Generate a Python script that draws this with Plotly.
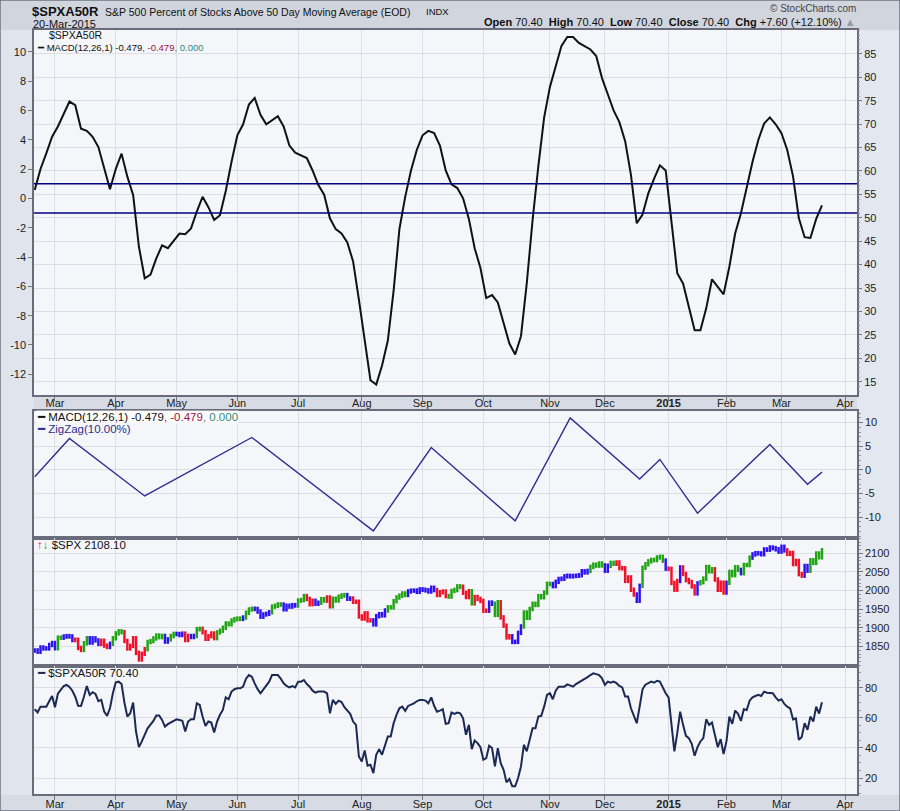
import pandas as pd
import plotly.graph_objects as go

# trading calendar for the window shown (NYSE holidays removed)
holidays = ["2014-04-18", "2014-05-26", "2014-07-04", "2014-09-01", "2014-11-27",
            "2014-12-25", "2015-01-01", "2015-01-19", "2015-02-16"]
days = pd.bdate_range("2014-02-20", "2015-04-30")
days = days[~days.isin(pd.to_datetime(holidays))]
pos = {d: i for i, d in enumerate(days)}

month_starts = pd.date_range("2014-03-01", "2015-04-01", freq="MS")
month_idx = [int(days.searchsorted(m)) for m in month_starts]
month_lbl = ["<b>2015</b>" if m.month == 1 else m.strftime("%b") for m in month_starts]

# MACD(12,26,1) of $SPXA50R, read every 2nd session from 20-Feb-2014
macd_vals = [
    0.57, 2.0, 3.07, 4.2, 4.9, 5.8, 6.6, 6.35, 4.75, 4.6,
    4.2, 3.5, 2.1, 0.62, 2.0, 3.05, 1.48, 0.23, -3.3, -5.45,
    -5.2, -4.1, -3.2, -3.4, -2.9, -2.4, -2.45, -2.05, -0.9, 0.11,
    -0.6, -1.47, -1.15, 0.5, 2.5, 4.3, 5.05, 6.4, 6.85, 5.7,
    5.05, 5.35, 5.6, 4.9, 3.6, 3.12, 2.95, 2.75, 1.9, 0.91,
    0.25, -1.36, -2.1, -2.4, -3.0, -4.3, -6.9, -9.8, -12.4, -12.7,
    -11.4, -9.7, -6.3, -2.1, 0.1, 1.9, 3.3, 4.3, 4.6, 4.45,
    3.6, 1.9, 0.95, 0.7, 0.0, -1.4, -3.4, -4.75, -6.8, -6.6,
    -7.1, -8.5, -9.9, -10.65, -9.4, -5.8, -1.5, 2.2, 5.5, 7.6,
    9.0, 10.4, 11.0, 11.0, 10.6, 10.35, 10.15, 9.7, 8.2, 7.1,
    6.0, 5.2, 3.9, 1.6, -1.7, -1.1, 0.34, 1.35, 2.25, 1.9,
    -1.8, -5.1, -5.8, -7.3, -9.0, -9.0, -7.5, -5.52, -6.0, -6.55,
    -4.66, -2.4, -1.02, 0.8, 2.5, 3.98, 5.1, 5.52, 5.05, 4.45,
    3.3, 1.5, -1.35, -2.65, -2.7, -1.4, -0.48,
]

# ZigZag(10%) turning points of the MACD
zz_dates = ["2014-02-20", "2014-03-10", "2014-04-15", "2014-06-09", "2014-08-07",
            "2014-09-05", "2014-10-16", "2014-11-12", "2014-12-17", "2014-12-29",
            "2015-01-16", "2015-02-24", "2015-03-13", "2015-03-20"]
zz_vals = [-1.45, 6.63, -5.52, 6.84, -12.9, 4.73, -10.78, 10.97, -1.94, 2.2,
           -9.16, 5.36, -3.06, -0.48]

# $SPX daily closes from 20-Feb-2014 to 20-Mar-2015
spx_close = [
    1839.8, 1836.3, 1847.6, 1845.1, 1845.2, 1854.3, 1859.5,
    1845.7, 1873.9, 1873.8, 1877.0, 1878.0, 1877.2, 1867.6, 1868.2, 1846.3, 1841.1,
    1858.8, 1872.3, 1860.8, 1872.0, 1866.5, 1857.4, 1865.6, 1852.6, 1849.0, 1857.6, 1872.3,
    1885.5, 1890.9, 1888.8, 1865.1, 1845.0, 1852.0, 1872.2, 1833.1, 1815.7, 1830.6,
    1843.0, 1862.3, 1864.9, 1871.9, 1879.6, 1875.4, 1878.6, 1863.4, 1869.4, 1878.3, 1884.0,
    1883.7, 1881.1, 1884.7, 1867.7, 1878.2, 1875.6, 1878.5, 1896.7, 1897.5, 1888.5,
    1870.9, 1877.9, 1885.1, 1872.8, 1888.0, 1892.5, 1900.5, 1911.9, 1909.8, 1920.0, 1923.6,
    1925.0, 1924.2, 1927.9, 1940.5, 1949.4, 1951.3, 1950.8, 1943.9, 1930.1, 1936.2,
    1937.8, 1942.0, 1957.0, 1959.5, 1962.9, 1962.6, 1950.0, 1959.5, 1957.2, 1961.0, 1960.2,
    1973.3, 1974.6, 1985.4, 1977.7, 1963.7, 1972.8, 1964.7, 1967.6, 1977.1, 1973.3, 1981.6,
    1958.1, 1978.2, 1973.6, 1983.5, 1987.0, 1988.0, 1978.3, 1978.9, 1970.0, 1970.1, 1930.7,
    1925.2, 1939.0, 1920.2, 1920.2, 1909.6, 1931.6, 1936.9, 1933.8, 1946.7, 1955.2,
    1955.1, 1971.7, 1981.6, 1986.5, 1992.4, 1988.4, 1997.9, 2000.0, 2000.1, 1996.7, 2003.4,
    2002.3, 2000.7, 1997.7, 2007.7, 2001.5, 1988.4, 1995.7, 1997.5, 1985.5, 1984.1,
    1999.0, 2001.6, 2011.4, 2010.4, 1994.3, 1982.8, 1998.3, 1966.0, 1982.9, 1977.8, 1972.3,
    1946.2, 1946.2, 1967.9, 1964.8, 1935.1, 1968.9, 1928.2, 1906.1, 1874.7, 1877.7, 1862.5,
    1862.8, 1886.8, 1904.0, 1941.3, 1927.1, 1950.8, 1964.6, 1961.6, 1985.1, 1982.3, 1994.7, 2018.1,
    2017.8, 2012.1, 2023.6, 2031.2, 2031.9, 2038.3, 2039.7, 2038.3, 2039.3, 2039.8,
    2041.3, 2051.8, 2048.7, 2052.8, 2063.5, 2069.4, 2067.0, 2072.8, 2067.6,
    2053.4, 2066.6, 2074.3, 2071.9, 2075.4, 2060.3, 2059.8, 2026.1, 2035.3, 2002.3, 1989.6,
    1972.7, 2012.9, 2061.2, 2070.7, 2078.5, 2082.2, 2081.9, 2088.8, 2090.6, 2080.4, 2058.9,
    2058.2, 2020.6, 2002.6, 2025.9, 2062.1, 2044.8, 2028.3, 2023.0, 2011.3, 1992.7,
    2019.4, 2022.6, 2032.1, 2063.2, 2051.8, 2057.1, 2029.6, 2002.2, 2021.3, 1995.0,
    2020.9, 2050.0, 2041.5, 2062.5, 2055.5, 2046.7, 2068.6, 2068.5, 2088.5, 2097.0,
    2100.3, 2099.7, 2097.5, 2110.3, 2109.7, 2115.5, 2113.9, 2110.7, 2104.5,
    2117.4, 2107.8, 2098.5, 2101.0, 2071.3, 2079.4, 2044.2, 2040.2, 2066.0, 2053.4,
    2081.2, 2074.3, 2099.5, 2089.3, 2108.1,
]

# Elder impulse colouring of the $SPX bars as (colour, number of sessions)
spx_runs = [
    ("b", 8), ("g", 2), ("b", 4), ("r", 3), ("g", 2), ("b", 4), ("r", 3), ("b", 1), ("g", 4), ("r", 8),
    ("g", 6), ("b", 2), ("g", 2), ("b", 3), ("r", 2), ("b", 2), ("g", 2), ("r", 5), ("g", 9),
    ("b", 1), ("g", 3), ("b", 6), ("g", 4), ("b", 5), ("g", 3), ("r", 3), ("b", 2), ("g", 2), ("r", 2),
    ("g", 5), ("b", 2), ("r", 7), ("b", 5), ("g", 7), ("b", 10), ("r", 4),
    ("g", 5), ("r", 3), ("g", 1), ("r", 5), ("b", 2), ("g", 2), ("r", 4), ("b", 4), ("g", 10),
    ("b", 13), ("g", 5), ("b", 2), ("g", 2), ("r", 7), ("b", 2), ("g", 8),
    ("b", 1), ("r", 4), ("b", 1), ("r", 5), ("b", 1), ("g", 5), ("r", 4), ("b", 1), ("g", 4),
    ("b", 1), ("g", 3), ("b", 12), ("r", 6), ("b", 2), ("g", 5),
]

# $SPXA50R daily values
a50_vals = [
    65.7, 63.5, 67.4, 67.4, 67.4, 71.0, 74.5, 67.0, 76.0, 78.5,
    81.0, 81.8, 80.5, 78.0, 74.0, 68.0, 67.9, 74.0, 81.1, 75.2,
    77.0, 75.8, 71.0, 71.9, 64.1, 61.3, 66.3, 76.3, 83.6, 84.0,
    82.5, 70.0, 60.8, 63.0, 70.1, 50.9, 40.5, 44.3, 48.7, 53.0,
    55.5, 57.9, 61.5, 61.5, 58.6, 54.2, 55.8, 57.0, 58.3, 59.0,
    58.6, 58.0, 50.9, 57.5, 59.0, 59.0, 69.6, 68.5, 60.8, 54.6,
    57.5, 56.8, 50.2, 57.5, 62.0, 65.2, 73.6, 72.3, 77.4, 79.0,
    79.6, 79.6, 80.7, 86.0, 88.4, 87.3, 82.9, 79.0, 76.3, 78.9,
    80.7, 84.0, 88.4, 88.4, 88.4, 86.0, 82.9, 81.1, 80.2, 81.1,
    80.2, 84.0, 84.0, 85.1, 82.4, 80.7, 78.0, 76.7, 77.4, 77.4,
    77.4, 76.3, 63.0, 71.9, 69.2, 71.4, 70.5, 67.0, 64.8, 62.6,
    57.5, 55.3, 34.3, 31.0, 38.3, 28.2, 28.8, 23.3, 35.5, 39.2,
    35.5, 41.0, 47.6, 47.6, 56.4, 61.9, 66.3, 67.4, 64.6, 67.9,
    68.5, 69.6, 71.0, 71.9, 71.9, 71.4, 69.6, 73.6, 68.0, 64.1,
    64.8, 65.7, 56.0, 56.4, 63.5, 62.6, 63.5, 63.0, 59.7, 48.7,
    55.3, 39.2, 44.9, 43.2, 40.5, 32.1, 33.2, 41.4, 39.9, 27.7,
    39.9, 29.9, 25.5, 17.1, 19.4, 14.5, 14.5, 20.0, 27.7, 42.1,
    37.7, 45.4, 53.1, 53.1, 60.8, 61.3, 67.4, 75.2, 76.3, 72.3,
    78.0, 80.7, 80.7, 80.7, 82.2, 81.5, 80.7, 82.4, 83.5, 84.6,
    85.5, 87.0, 88.4, 89.5, 89.0, 88.4, 86.2, 81.8, 84.0, 83.3,
    84.0, 83.0, 81.1, 80.2, 74.1, 74.1, 66.3, 61.9, 56.4, 67.4,
    78.9, 82.0, 82.9, 84.0, 83.3, 84.6, 84.0, 80.0, 76.3, 73.6,
    55.0, 37.7, 49.8, 64.1, 55.3, 48.0, 46.5, 42.7, 34.8, 40.5,
    44.3, 46.5, 59.0, 55.3, 56.8, 49.3, 40.5, 45.8, 35.9, 44.3,
    60.8, 56.0, 64.8, 62.6, 57.9, 65.7, 65.2, 71.4, 73.6, 74.5,
    75.2, 74.5, 77.4, 76.7, 76.5, 76.3, 73.6, 71.4, 72.3, 69.2,
    67.4, 66.3, 59.0, 59.7, 45.4, 47.2, 56.4, 52.0, 60.8, 57.5,
    67.4, 62.8, 70.4,
]

W, H = 900, 811
def fx(p): return p / W
def fy(p): return 1 - p / H

FONT = "Liberation Sans"
GRID = "#dcdee6"
FRAME = "#6a6c7c"
BG = "#d6dbe4"
PLOT = "#f5f6fa"
NAVY = "#000080"
BAR_COL = {"g": "#1fa512", "r": "#f01028", "b": "#2a12f2"}

macd_x = list(range(0, 2 * len(macd_vals), 2))
zz_x = [pos[pd.Timestamp(d)] for d in zz_dates]
spx_x = list(range(len(spx_close)))
a50_x = list(range(len(a50_vals)))

bar_cols = []
for c, n in spx_runs:
    bar_cols += [BAR_COL[c]] * n
prev = [spx_close[0]] + spx_close[:-1]
bar_lo = [min(a, b) - 6 for a, b in zip(prev, spx_close)]
bar_len = [abs(a - b) + 12 for a, b in zip(prev, spx_close)]

fig = go.Figure()
fig.add_trace(go.Scatter(x=[], y=[], xaxis="x", yaxis="y5", hoverinfo="skip"))
fig.add_trace(go.Scatter(x=macd_x, y=macd_vals, mode="lines", xaxis="x", yaxis="y",
                         line=dict(color="#111111", width=2)))
fig.add_trace(go.Scatter(x=zz_x, y=zz_vals, mode="lines", xaxis="x2", yaxis="y2",
                         line=dict(color="#2e2e90", width=1.4)))
fig.add_trace(go.Bar(x=spx_x, base=bar_lo, y=bar_len, xaxis="x3", yaxis="y3", width=0.85,
                     marker=dict(color=bar_cols, line=dict(width=0))))
fig.add_trace(go.Scatter(x=a50_x, y=a50_vals, mode="lines", xaxis="x4", yaxis="y4",
                         line=dict(color="#1b2a52", width=2)))

xdom = [fx(34), fx(857)]
def xax(labels, anchor, standoff=-4):
    return dict(domain=xdom, anchor=anchor, range=[-0.25, 284.1], tickvals=month_idx,
                ticktext=month_lbl, showticklabels=labels, ticks="outside" if labels else "",
                ticklen=4, tickcolor="#777", ticklabelstandoff=standoff,
                showgrid=True, gridcolor=GRID, gridwidth=1,
                showline=True, linecolor=FRAME, linewidth=1.5, mirror=True, zeroline=False,
                tickfont=dict(family=FONT, size=11, color="#222"))

def yax(dom, rng, ticks, anchor, side="right", grid=True):
    return dict(domain=dom, anchor=anchor, range=rng, side=side, tickvals=ticks,
                ticktext=[str(t) for t in ticks], ticks="outside", ticklen=4, tickcolor="#777",
                showgrid=grid, gridcolor=GRID, gridwidth=1, zeroline=False,
                showline=True, linecolor=FRAME, linewidth=1.5, mirror=True,
                minor=dict(ticks="outside", ticklen=2, tickcolor="#999", showgrid=False),
                tickfont=dict(family=FONT, size=11, color="#222"))

top_dom = [fy(395), fy(30)]
mid_dom = [fy(538), fy(411)]
spx_dom = [fy(666), fy(538)]
bot_dom = [fy(794), fy(666)]

y_top = yax(top_dom, [-13.41, 11.48], list(range(-12, 11, 2)), "x", side="left", grid=False)
y_top["minor"] = dict(ticks="")
y_right = dict(overlaying="y", anchor="x", side="right", range=[12.16, 90.1],
               tickvals=list(range(15, 90, 5)), ticktext=[str(t) for t in range(15, 90, 5)],
               ticks="outside", ticklen=4, tickcolor="#777", showgrid=True, gridcolor=GRID,
               zeroline=False, showline=False,
               minor=dict(ticks="outside", ticklen=2, tickcolor="#999", dtick=1, showgrid=False),
               tickfont=dict(family=FONT, size=11, color="#222"))
y_mid = yax(mid_dom, [-14.4, 12.44], [-10, -5, 0, 5, 10], "x2")
y_mid["minor"]["dtick"] = 1
y_spx = yax(spx_dom, [1798, 2141], [1850, 1900, 1950, 2000, 2050, 2100], "x3")
y_spx["minor"]["dtick"] = 10
y_bot = yax(bot_dom, [9.4, 94.4], [20, 40, 60, 80], "x4")
y_bot["minor"]["dtick"] = 5

shapes = [
    dict(type="rect", xref="paper", yref="paper", x0=0, x1=1, y0=fy(30), y1=1,
         fillcolor="#d0d5de", line=dict(width=0), layer="below"),
    dict(type="rect", xref="paper", yref="paper", x0=0, x1=fx(34), y0=fy(795), y1=fy(30),
         fillcolor="#e0e4ec", line=dict(width=0), layer="below"),
    dict(type="rect", xref="paper", yref="paper", x0=fx(857), x1=1, y0=fy(795), y1=fy(30),
         fillcolor="#e3e7ef", line=dict(width=0), layer="below"),
    dict(type="rect", xref="paper", yref="paper", x0=0, x1=1, y0=0, y1=1,
         line=dict(color="#707480", width=1.5)),
    dict(type="line", xref="x domain", yref="y", x0=0, x1=1, y0=1, y1=1,
         line=dict(color=NAVY, width=1.5)),
    dict(type="line", xref="x domain", yref="y", x0=0, x1=1, y0=-1, y1=-1,
         line=dict(color=NAVY, width=1.5)),
]

def note(text, x, y, size=11, color="#111", anchor="left", bg=None):
    return dict(text=text, x=fx(x), y=fy(y), xref="paper", yref="paper", showarrow=False,
                xanchor=anchor, yanchor="middle", bgcolor=bg, borderpad=0,
                font=dict(family=FONT, size=size, color=color))

sp = "\u00a0"
macd_txt = ("MACD(12,26,1) -0.479<span style='color:#9a1440'>, -0.479</span>"
            "<span style='color:#2f8a78'>, 0.000</span>")
annotations = [
    note("<b>$SPXA50R</b>", 31, 11, size=13),
    note("S&P 500 Percent of Stocks Above 50 Day Moving Average (EOD)", 104, 12, size=10.5),
    note("INDX", 425, 12, size=9.5),
    note("20-Mar-2015", 32, 24, size=11),
    note("\u00a9 StockCharts.com", 857, 9, size=10, color="#444", anchor="right"),
    note(f"<b>Open</b> 70.40{sp}{sp}<b>High</b> 70.40{sp}{sp}<b>Low</b> 70.40{sp}{sp}"
         f"<b>Close</b> 70.40{sp}{sp}<b>Chg</b> +7.60 (+12.10%) <span style='color:#999'>\u25b2</span>",
         857, 22, size=11, anchor="right"),
    note("$SPXA50R", 48, 35, size=10.5),
    note("<span style='color:#111'>\u2501</span> " + macd_txt, 36, 47, size=9.5),
    note("\u2501 " + macd_txt, 36, 417, size=11.5, bg="rgba(255,255,255,0.75)"),
    note("<span style='color:#2e2e90'>\u2501 ZigZag(10.00%)</span>", 36, 429, size=11.5, color="#2e2e90"),
    note("<span style='color:#f01028'>\u2191</span><span style='color:#1fa512'>\u2193</span> $SPX 2108.10",
         36, 545, size=11.5),
    note("<span style='color:#1b2a52'>\u2501</span> $SPXA50R 70.40", 36, 673, size=11.5),
]

fig.update_layout(
    width=W, height=H, margin=dict(l=0, r=0, t=0, b=0), template="none",
    paper_bgcolor=BG, plot_bgcolor=PLOT, showlegend=False, barmode="overlay",
    font=dict(family=FONT, size=11, color="#222"),
    xaxis=xax(True, "y", -7), xaxis2=xax(False, "y2"), xaxis3=xax(False, "y3"),
    xaxis4=xax(True, "y4", -5),
    yaxis=y_top, yaxis5=y_right, yaxis2=y_mid, yaxis3=y_spx, yaxis4=y_bot,
    shapes=shapes, annotations=annotations,
)
for ax in ["xaxis2", "xaxis3", "xaxis4"]:
    fig.layout[ax].matches = "x"

# drop the browser's default 8px body margin so the 900x811 figure fills the window
fig.write_html("out.html", config={"displayModeBar": False},
               post_script="document.body.style.margin='0';"
                           "document.body.style.overflow='hidden';")
